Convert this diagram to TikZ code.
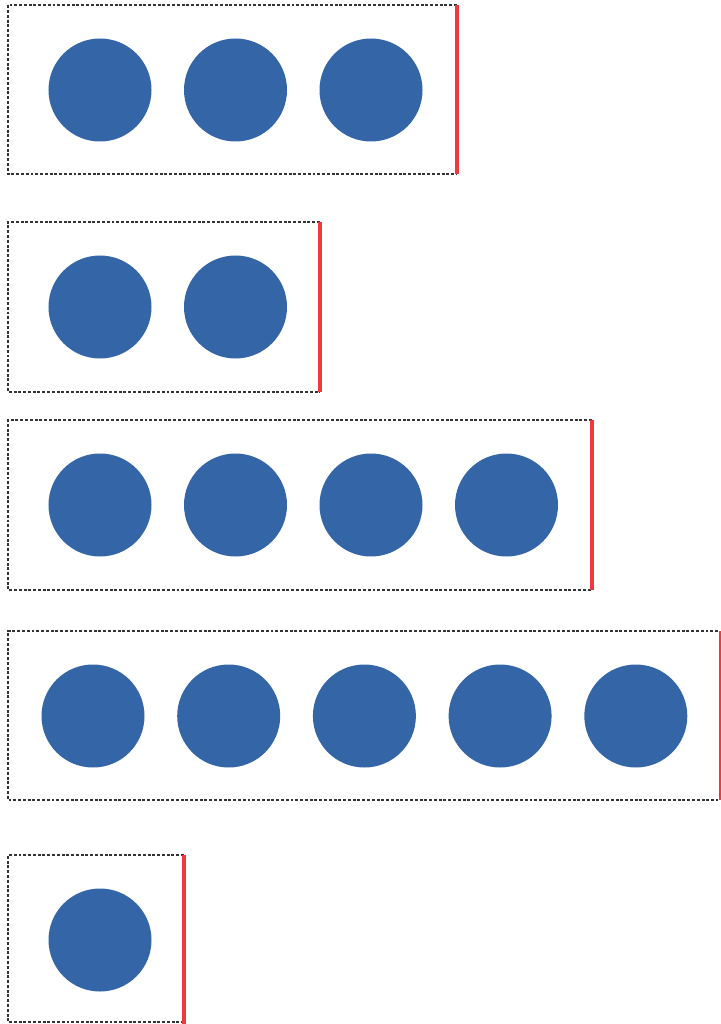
\documentclass[tikz,border=0pt]{standalone}
\definecolor{dotblue}{HTML}{3465A7}
\definecolor{edgered}{HTML}{F0393F}

\begin{document}
\begin{tikzpicture}[
  x=0.25mm,
  y=-0.25mm,
  frame/.style={draw=black!80,line width=0.9pt,dash pattern=on 2.1pt off 1.3pt},
  limit/.style={draw=edgered,line width=3.4pt},
  dot/.style={circle,fill=dotblue,draw=none,inner sep=0pt,minimum size=25.75mm}
]
  \useasboundingbox (0,0) rectangle (720,1024);

  % Row boxes: left, top, right (red edge), bottom.
  \draw[frame] (457,5) -- (8,5) -- (8,174) -- (457,174);
  \draw[frame] (320,222) -- (8,222) -- (8,392) -- (320,392);
  \draw[frame] (592,420) -- (8,420) -- (8,590) -- (592,590);
  \draw[frame] (718,631) -- (8,631) -- (8,800) -- (718,800);
  \draw[frame] (184,855) -- (8,855) -- (8,1022) -- (184,1022);

  % Red right edges.
  \draw[limit] (457,5) -- (457,174);
  \draw[limit] (320,222) -- (320,392);
  \draw[limit] (592,420) -- (592,590);
  \draw[limit] (721,631) -- (721,800);
  \draw[limit] (184,855) -- (184,1024);

  % Counters in each row.
  \foreach \i in {1,2,3} {
    \node[dot] (r1c\i) at ({100+135.5*(\i-1)},90) {};
  }
  \foreach \i in {1,2} {
    \node[dot] (r2c\i) at ({100+135.5*(\i-1)},307) {};
  }
  \foreach \i in {1,2,3,4} {
    \node[dot] (r3c\i) at ({100+135.5*(\i-1)},505) {};
  }
  \foreach \i in {1,...,5} {
    \node[dot] (r4c\i) at ({93+135.7*(\i-1)},716) {};
  }
  \node[dot] (r5c1) at (100,940) {};
\end{tikzpicture}
\end{document}
